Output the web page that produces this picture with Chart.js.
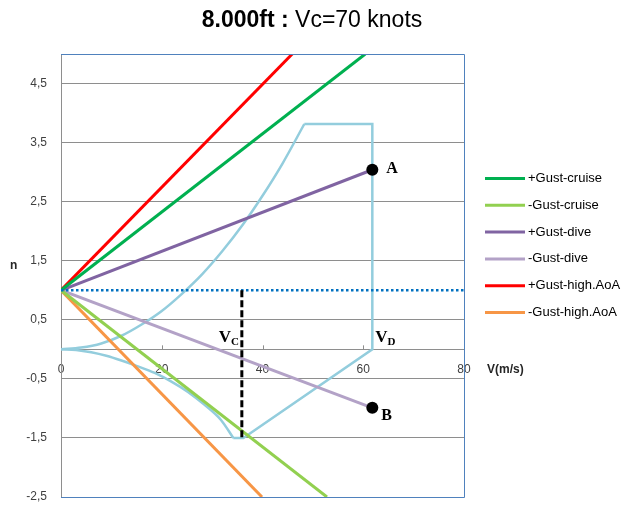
<!DOCTYPE html>
<html>
<head>
<meta charset="utf-8">
<script src="https://cdn.jsdelivr.net/npm/chart.js@4.4.0/dist/chart.umd.min.js"></script>
<style>
  html, body { margin: 0; padding: 0; background: #fff; }
  #wrap { width: 622px; height: 506px; }
</style>
</head>
<body>
<div id="wrap"><canvas id="c"></canvas></div>
<script>
// axis ticks
const yTicks = [-2.5, -1.5, -0.5, 0.5, 1.5, 2.5, 3.5, 4.5];
const xTicks = [0, 20, 40, 60, 80];

// gust lines, all start at (0, 1)
const gustLabels = ['+Gust-cruise', '-Gust-cruise', '+Gust-dive', '-Gust-dive', '+Gust-high.AoA', '-Gust-high.AoA'];
const gustColors = ['#00b050', '#92d050', '#8064a2', '#b3a2c7', '#ff0000', '#f79646'];
const gustEndV = [60.4, 52.8, 61.8, 61.8, 45.9, 39.9];
const gustEndN = [5.0, -2.5, 3.04, -0.99, 5.0, -2.5];

// manoeuvre envelope
const upperV = [0, 4, 8, 12, 16, 20, 24, 28, 32, 36, 40, 44, 48.3];
const upperN = [0, 0.03, 0.1, 0.23, 0.42, 0.65, 0.94, 1.27, 1.66, 2.1, 2.6, 3.15, 3.815];
const edgeV = [48.3, 61.8, 61.8, 36.2, 34.2];
const edgeN = [3.815, 3.815, 0, -1.5, -1.5];
const lowerV = [0, 3, 6, 9, 12, 15, 18.6, 22, 25.2, 28.5, 31.8, 34.2];
const lowerN = [0, -0.01, -0.05, -0.11, -0.19, -0.28, -0.4, -0.55, -0.72, -0.94, -1.2, -1.5];

// n = 1 reference and Vc marker
const oneV = [0, 80];
const oneN = [1, 1];
const vcV = [35.9, 35.9];
const vcN = [1, -1.5];

// labelled points
const markLabels = ['A', 'B'];
const markV = [61.8, 61.8];
const markN = [3.04, -0.99];

const FONT = '"Liberation Sans", Arial, sans-serif';
const SERIF = '"Liberation Serif", "DejaVu Serif", serif';
const ENV_COLOR = '#93cddd';

function pts(xs, ys) {
    return xs.map((x, i) => ({ x: x, y: ys[i] }));
}

let datasets = [];

datasets.push({
    label: 'points',
    data: pts(markV, markN),
    showLine: false,
    pointRadius: 6,
    pointBackgroundColor: '#000',
    pointBorderColor: '#000',
    pointBorderWidth: 0
});

datasets.push({
    label: 'Vc',
    data: pts(vcV, vcN),
    borderColor: '#000',
    borderWidth: 3,
    borderDash: [7, 3],
    pointRadius: 0
});

datasets.push({
    label: 'n=1',
    data: pts(oneV, oneN),
    borderColor: '#0070c0',
    borderWidth: 2.5,
    borderDash: [2.5, 2.5],
    pointRadius: 0
});

gustLabels.forEach((lbl, i) => {
    datasets.push({
        label: lbl,
        data: [{ x: 0, y: 1 }, { x: gustEndV[i], y: gustEndN[i] }],
        borderColor: gustColors[i],
        backgroundColor: gustColors[i],
        borderWidth: 3,
        pointRadius: 0
    });
});

datasets.push({
    label: 'envelope-upper',
    data: pts(upperV, upperN),
    borderColor: ENV_COLOR,
    borderWidth: 2.5,
    cubicInterpolationMode: 'monotone',
    pointRadius: 0
});
datasets.push({
    label: 'envelope-edge',
    data: pts(edgeV, edgeN),
    borderColor: ENV_COLOR,
    borderWidth: 2.5,
    borderJoinStyle: 'miter',
    pointRadius: 0
});
datasets.push({
    label: 'envelope-lower',
    data: pts(lowerV, lowerN),
    borderColor: ENV_COLOR,
    borderWidth: 2.5,
    cubicInterpolationMode: 'monotone',
    pointRadius: 0
});

const annotate = {
    id: 'annotate',
    beforeDatasetsDraw(chart) {
        const ctx = chart.ctx;
        const xs = chart.scales.x, ys = chart.scales.y;
        const y0 = ys.getPixelForValue(0);
        ctx.save();
        ctx.strokeStyle = '#8e8e8e';
        ctx.lineWidth = 1;
        xTicks.slice(1, -1).forEach(v => {
            const px = Math.round(xs.getPixelForValue(v)) + 0.5;
            ctx.beginPath();
            ctx.moveTo(px, y0);
            ctx.lineTo(px, y0 - 4);
            ctx.stroke();
        });
        ctx.restore();
    },
    afterDraw(chart) {
        const ctx = chart.ctx;
        const area = chart.chartArea;
        const xs = chart.scales.x, ys = chart.scales.y;
        ctx.save();

        // plot border (top, right, bottom)
        ctx.strokeStyle = '#4f81bd';
        ctx.lineWidth = 1;
        ctx.beginPath();
        ctx.moveTo(area.left, area.top + 0.5);
        ctx.lineTo(area.right + 0.5, area.top + 0.5);
        ctx.lineTo(area.right + 0.5, area.bottom + 0.5);
        ctx.lineTo(area.left, area.bottom + 0.5);
        ctx.stroke();

        // title
        ctx.fillStyle = '#000';
        ctx.textBaseline = 'middle';
        ctx.textAlign = 'left';
        const t1 = '8.000ft : ';
        const t2 = 'Vc=70 knots';
        ctx.font = 'bold 23px ' + FONT;
        const w1 = ctx.measureText(t1).width;
        ctx.font = '23px ' + FONT;
        const w2 = ctx.measureText(t2).width;
        const tx = 312 - (w1 + w2) / 2;
        ctx.font = 'bold 23px ' + FONT;
        ctx.fillText(t1, tx, 21);
        ctx.font = '23px ' + FONT;
        ctx.fillText(t2, tx + w1, 21);

        // axis names
        ctx.font = 'bold 12px ' + FONT;
        ctx.fillStyle = '#262626';
        ctx.fillText('n', 10, 266);
        ctx.fillText('V(m/s)', area.right + 23, 370);

        // legend
        ctx.font = '13px ' + FONT;
        ctx.fillStyle = '#000';
        gustLabels.forEach((lbl, i) => {
            const ly = 178.5 + i * 26.8;
            ctx.strokeStyle = gustColors[i];
            ctx.lineWidth = 3;
            ctx.beginPath();
            ctx.moveTo(485, ly);
            ctx.lineTo(525, ly);
            ctx.stroke();
            ctx.fillText(lbl, 528, ly);
        });

        // point labels
        ctx.font = 'bold 16px ' + SERIF;
        markLabels.forEach((lbl, i) => {
            const px = xs.getPixelForValue(markV[i]);
            const py = ys.getPixelForValue(markN[i]);
            ctx.fillText(lbl, px + (i === 0 ? 14 : 9), py + (i === 0 ? -1 : 8));
        });

        // Vc / Vd labels
        const y0 = ys.getPixelForValue(0);
        const drawSub = (x, main, sub, alignRight) => {
            ctx.font = 'bold 17px ' + SERIF;
            const wm = ctx.measureText(main).width;
            ctx.font = 'bold 11px ' + SERIF;
            const ws = ctx.measureText(sub).width;
            const sx = alignRight ? x - wm - ws : x;
            ctx.font = 'bold 17px ' + SERIF;
            ctx.fillText(main, sx, y0 - 12);
            ctx.font = 'bold 11px ' + SERIF;
            ctx.fillText(sub, sx + wm, y0 - 7);
        };
        drawSub(xs.getPixelForValue(vcV[0]) - 3, 'V', 'C', true);
        drawSub(xs.getPixelForValue(markV[0]) + 3, 'V', 'D', false);

        ctx.restore();
    }
};

new Chart(document.getElementById('c'), {
    type: 'scatter',
    data: { datasets: datasets },
    options: {
        responsive: true,
        maintainAspectRatio: false,
        animation: false,
        showLine: true,
        layout: { padding: { left: 0, right: 158, top: 54, bottom: 9 } },
        elements: { line: { tension: 0, borderCapStyle: 'butt' } },
        plugins: {
            legend: { display: false },
            title: { display: false },
            tooltip: { enabled: false }
        },
        scales: {
            x: {
                type: 'linear',
                min: 0,
                max: 80,
                position: { y: 0 },
                afterBuildTicks: scale => { scale.ticks = xTicks.map(v => ({ value: v })); },
                afterFit: scale => { scale.height = 0; },
                grid: { display: true, drawOnChartArea: false, drawTicks: false },
                border: { display: true, color: '#8e8e8e', width: 1 },
                ticks: {
                    padding: 13,
                    color: '#404040',
                    font: { family: FONT, size: 12 },
                    maxRotation: 0
                }
            },
            y: {
                type: 'linear',
                min: -2.5,
                max: 5,
                afterBuildTicks: scale => { scale.ticks = yTicks.map(v => ({ value: v })); },
                afterFit: scale => {
                    scale.width = 61;
                    scale.paddingTop = 0;
                    scale.paddingBottom = 0;
                },
                grid: { color: '#8e8e8e', lineWidth: 1, drawTicks: false },
                border: { display: true, color: '#8e8e8e', width: 1 },
                ticks: {
                    padding: 14,
                    color: '#404040',
                    font: { family: FONT, size: 12 },
                    callback: v => String(v).replace('.', ',')
                }
            }
        }
    },
    plugins: [annotate]
});
</script>
</body>
</html>
